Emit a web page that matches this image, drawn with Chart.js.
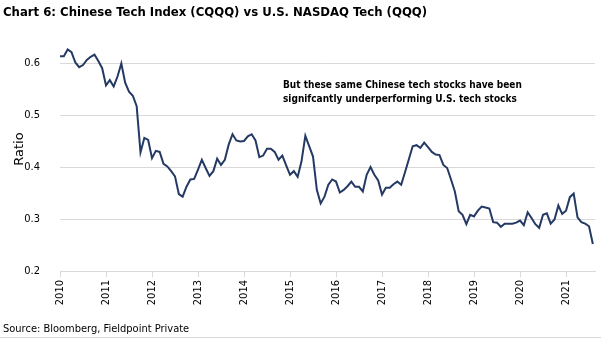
<!DOCTYPE html>
<html>
<head>
<meta charset="utf-8">
<script src="https://cdn.jsdelivr.net/npm/chart.js@4.4.1/dist/chart.umd.min.js"></script>
<style>
body { margin: 0; background: #fff; }
#wrap { width: 601px; height: 338px; }
</style>
</head>
<body>
<div id="wrap"><canvas id="chart_ratio" width="601" height="338"></canvas></div>
<script>
// monthly ratio CQQQ / QQQ, first point = Jan 2010
var startYear = 2010;
var ratio2010 = [0.613, 0.613, 0.626, 0.621, 0.601, 0.592, 0.596, 0.606, 0.612, 0.616, 0.604, 0.590];
var ratio2011 = [0.557, 0.567, 0.555, 0.574, 0.599, 0.562, 0.545, 0.537, 0.517, 0.428, 0.456, 0.452];
var ratio2012 = [0.417, 0.431, 0.429, 0.406, 0.401, 0.392, 0.382, 0.348, 0.343, 0.362, 0.376, 0.377];
var ratio2013 = [0.395, 0.414, 0.398, 0.383, 0.392, 0.416, 0.404, 0.414, 0.443, 0.463, 0.451, 0.449];
var ratio2014 = [0.450, 0.459, 0.463, 0.451, 0.419, 0.422, 0.435, 0.435, 0.429, 0.414, 0.422, 0.403];
var ratio2015 = [0.385, 0.392, 0.381, 0.411, 0.460, 0.440, 0.420, 0.356, 0.330, 0.343, 0.366, 0.376];
var ratio2016 = [0.372, 0.351, 0.356, 0.363, 0.372, 0.362, 0.362, 0.353, 0.385, 0.400, 0.385, 0.374];
var ratio2017 = [0.347, 0.360, 0.360, 0.367, 0.372, 0.366, 0.390, 0.415, 0.440, 0.442, 0.437, 0.447];
var ratio2018 = [0.438, 0.429, 0.424, 0.423, 0.404, 0.398, 0.376, 0.353, 0.315, 0.308, 0.290, 0.308];
var ratio2019 = [0.305, 0.316, 0.324, 0.322, 0.320, 0.294, 0.293, 0.285, 0.291, 0.291, 0.291, 0.293];
var ratio2020 = [0.297, 0.288, 0.313, 0.302, 0.290, 0.283, 0.308, 0.311, 0.291, 0.299, 0.326, 0.310];
var ratio2021 = [0.316, 0.342, 0.349, 0.303, 0.294, 0.291, 0.286, 0.252];

var ratio = [].concat(ratio2010, ratio2011, ratio2012, ratio2013, ratio2014, ratio2015,
	ratio2016, ratio2017, ratio2018, ratio2019, ratio2020, ratio2021);

var yTicks = [0.2, 0.3, 0.4, 0.5, 0.6];
var xYears = [2010, 2011, 2012, 2013, 2014, 2015, 2016, 2017, 2018, 2019, 2020, 2021];

var chartTitle = "Chart 6: Chinese Tech Index (CQQQ) vs U.S. NASDAQ Tech (QQQ)";
var note = ["But these same Chinese tech stocks have been", "signifcantly underperforming U.S. tech stocks"];
var source = "Source: Bloomberg, Fieldpoint Private";

var points = ratio.map(function(v, i){ return {x: startYear + i / 12, y: v}; });

var fontFam = "'DejaVu Sans Condensed', 'DejaVu Sans', sans-serif";

/* texts drawn around the plot */
var textPlugin = {
	id: 'texts',
	afterDraw: function(chart){
		var ctx = chart.ctx;
		ctx.save();
		ctx.fillStyle = "#000";
		ctx.textBaseline = "alphabetic";
		ctx.textAlign = "left";
		ctx.font = "bold 13px " + fontFam;
		ctx.fillText(chartTitle, 3, 16);
		ctx.font = "bold 10px " + fontFam;
		ctx.fillText(note[0], 283, 87.5);
		ctx.fillText(note[1], 283, 101.5);
		ctx.font = "11px " + fontFam;
		ctx.fillText(source, 3, 331.5);
		// Ratio
		ctx.translate(19.5, 149);
		ctx.rotate(-Math.PI / 2);
		ctx.textAlign = "center";
		ctx.textBaseline = "middle";
		ctx.font = "13px 'DejaVu Sans', sans-serif";
		ctx.fillText("Ratio", 0, 0);
		ctx.restore();
		// bottom rule
		ctx.save();
		ctx.strokeStyle = "#d9d9d9";
		ctx.lineWidth = 1;
		ctx.beginPath();
		ctx.moveTo(0, 337.5);
		ctx.lineTo(601, 337.5);
		ctx.stroke();
		ctx.restore();
	}
};

var ctx = document.getElementById("chart_ratio").getContext('2d');
var myChart = new Chart(ctx, {
	type: 'line',
	data: {
		datasets: [{
			label: 'CQQQ / QQQ',
			data: points,
			borderColor: "#243a64",
			borderWidth: 2,
			pointRadius: 0,
			tension: 0,
			fill: false
		}]
	},
	options: {
		responsive: false,
		animation: false,
		devicePixelRatio: 1,
		layout: { padding: { top: 37, right: 6, bottom: 0, left: 0 } },
		plugins: {
			legend: { display: false },
			tooltip: { enabled: false }
		},
		scales: {
			x: {
				type: 'linear',
				min: 2010,
				max: 2021.63,
				afterFit: function(s){ s.height = 67; },
				afterBuildTicks: function(s){ s.ticks = xYears.map(function(v){ return {value: v}; }); },
				grid: { drawOnChartArea: false, drawTicks: true, tickLength: 6, color: "#d9d9d9" },
				border: { display: true, color: "#d9d9d9" },
				ticks: {
					maxRotation: 90,
					minRotation: 90,
					padding: 3,
					color: "#000",
					font: { family: fontFam, size: 11 },
					callback: function(v){ return String(v); }
				}
			},
			y: {
				min: 0.2,
				max: 0.65,
				afterFit: function(s){ s.width = 60; },
				afterBuildTicks: function(s){ s.ticks = yTicks.map(function(v){ return {value: v}; }); },
				grid: { drawTicks: false, color: "#d9d9d9" },
				border: { display: false },
				ticks: {
					padding: 20,
					color: "#000",
					font: { family: fontFam, size: 11 },
					callback: function(v){ return v.toFixed(1); }
				}
			}
		}
	},
	plugins: [textPlugin]
});
</script>
</body>
</html>
